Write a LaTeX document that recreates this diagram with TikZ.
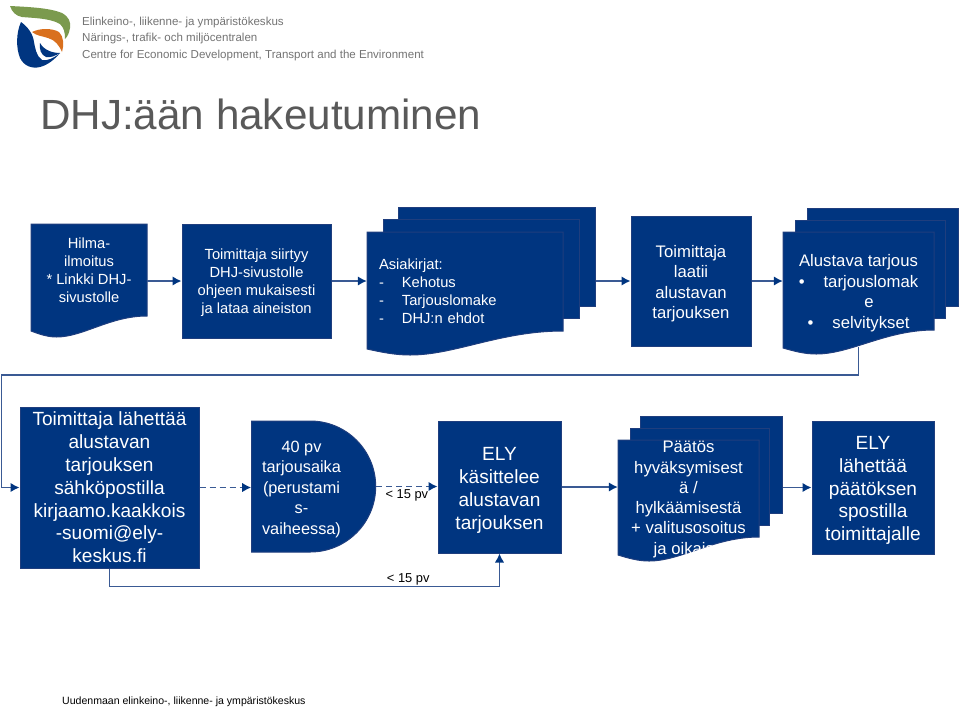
\documentclass[tikz,border=0pt]{standalone}
\usepackage{fontspec}
\setmainfont{Liberation Sans}
\usetikzlibrary{positioning,arrows.meta,shapes.misc}
\definecolor{elyblue}{HTML}{003580}
\definecolor{elyedge}{HTML}{1F3E7E}
\definecolor{elyline}{HTML}{3A5A94}
\definecolor{elygreen}{HTML}{7B9A4E}
\definecolor{elyorange}{HTML}{D9701E}
\newcommand{\wavepath}[5]{(#1,#2) -- (#3,#2) -- (#3,#4) .. controls ({#1+0.68*(#3-#1)},#4) and ({#1+0.45*(#3-#1)},#5+6) .. ({#1+0.22*(#3-#1)},#5+6) .. controls ({#1+0.14*(#3-#1)},#5+6) and ({#1+0.07*(#3-#1)},#5+3) .. (#1,#5) -- cycle}
\newcommand{\lift}[1]{\rule{0pt}{#1}}
\begin{document}
\begin{tikzpicture}[x=1pt,y=-1pt,
    main/.style = {draw=elyedge, fill=elyblue, line width=1pt},
    txt/.style = {text=white, align=center, inner sep=0pt},
    box/.style = {main, txt, rectangle},
    sheet/.style = {main, rectangle, anchor=north west, inner sep=0pt},
    small/.style = {font=\fontsize{14.7}{18}\selectfont},
    mid/.style = {font=\fontsize{16.7}{20.5}\selectfont},
    big/.style = {font=\fontsize{19.1}{22.8}\selectfont},
    tag/.style = {inner sep=1pt, font=\fontsize{12.9}{14}\selectfont},
    arr/.style = {draw=elyline, line width=1.6pt, -{Latex[length=9pt,width=9.5pt,color=elyblue]}},
    dasharr/.style = {arr, dash pattern=on 6pt off 4pt},
    head/.style = {text=black!55, anchor=west, inner sep=0pt, text height=9.5pt, text depth=2.5pt, font=\fontsize{11.55}{14}\selectfont}]
    \useasboundingbox (0,0) rectangle (960,710);

    \fill[elygreen] (10,6) .. controls (30,7) and (50,8) .. (62,13) .. controls (69,17) and (71,22) .. (70,28) .. controls (69,33) and (68,36) .. (65,39) .. controls (65,32) and (64,28) .. (60,24) .. controls (50,18) and (32,18) .. (22,17) .. controls (16,16) and (12,12) .. (10,6) -- cycle;
    \fill[elyblue] (21,22) .. controls (16,33) and (16,48) .. (20,58) .. controls (24,66) and (32,69) .. (40,67) .. controls (48,65) and (55,59) .. (60,53) .. controls (54,58) and (48,61) .. (42,60) .. controls (36,56) and (35,47) .. (34,42) .. controls (33,34) and (28,27) .. (21,22) -- cycle;
    \fill[elyblue] (40,43) .. controls (44,50) and (52,53) .. (60,53) .. controls (55,56) and (50,58) .. (46,57) .. controls (41,55) and (39,49) .. (40,43) -- cycle;
    \fill[elyorange] (32,32) .. controls (40,28) and (52,28) .. (59,32) .. controls (64,37) and (64,45) .. (62,52) .. controls (59,45) and (55,40) .. (48,38) .. controls (42,36) and (37,36) .. (32,32) -- cycle;

    \node[head] (h1) at (82,22) {Elinkeino-, liikenne- ja ympäristökeskus};
    \node[head, below=4pt of h1.south west, anchor=north west] (h2) {Närings-, trafik- och miljöcentralen};
    \node[head, below=4pt of h2.south west, anchor=north west] (h3) {Centre for Economic Development, Transport and the Environment};
    \node[text=black!65, anchor=west, inner sep=0pt, font=\fontsize{42.2}{50}\selectfont] (title) at (40,114) {DHJ:ään hakeutuminen};

    \path[main] \wavepath{31}{224}{147}{316}{331};
    \node[txt, small, minimum width=116pt] (hilma) at (89,270.5) {Hilma-\\ilmoitus\\* Linkki DHJ-\\sivustolle};
    \node[box, small, minimum width=149pt, minimum height=114pt] (siirtyy) at (256.5,281) {\lift{15pt}Toimittaja siirtyy\\DHJ-sivustolle\\ohjeen mukaisesti\\ja lataa aineiston};

    \node[sheet, minimum width=197pt, minimum height=99pt] (asia3) at (398,207) {};
    \node[sheet, minimum width=196pt, minimum height=99pt] (asia2) at (383,219) {};
    \path[main] \wavepath{367}{232}{563}{331}{349};
    \node[txt, small, align=left, text width=172pt, minimum width=196pt, minimum height=70pt] (asia) at (465,291) {Asiakirjat:\\-\hspace{18pt}Kehotus\\-\hspace{18pt}Tarjouslomake\\-\hspace{18pt}DHJ:n ehdot};

    \node[box, mid, minimum width=120pt, minimum height=130pt] (laatii) at (691,281) {\lift{17pt}Toimittaja\\laatii\\alustavan\\tarjouksen};

    \node[sheet, minimum width=151pt, minimum height=98pt] (alus3) at (807,208) {};
    \node[sheet, minimum width=150pt, minimum height=98pt] (alus2) at (795,220) {};
    \path[main] \wavepath{783}{232}{934}{330}{348};
    \node[txt, mid, minimum width=151pt, minimum height=108pt] (alus) at (858.5,293) {Alustava tarjous\\\textbullet\hspace{19pt}tarjouslomak\\\hspace{21pt}e\\\textbullet\hspace{19pt}selvitykset};

    \node[box, big, minimum width=179pt, minimum height=161pt] (lahettaa) at (109.5,487.5) {Toimittaja lähettää\\alustavan\\tarjouksen\\sähköpostilla\\kirjaamo.kaakkois\\-suomi@ely-\\keskus.fi};
    \node[main, txt, font=\fontsize{16.3}{20.4}\selectfont, rounded rectangle, rounded rectangle west arc=none, minimum width=124pt, minimum height=131pt] (aika) at (301.5,486.5) {\lift{17pt}40 pv\\tarjousaika\\(perustami\\s-\\vaiheessa)};
    \node[box, big, minimum width=123pt, minimum height=132pt] (kasittelee) at (499.5,487) {\lift{20pt}ELY\\käsittelee\\alustavan\\tarjouksen};

    \node[sheet, minimum width=142pt, minimum height=97pt] (paatos3) at (640,416) {};
    \node[sheet, minimum width=139pt, minimum height=97pt] (paatos2) at (630,428) {};
    \path[main] \wavepath{618}{440}{759}{537}{555};
    \begin{scope}
        \clip \wavepath{618}{440}{759}{537}{555};
        \node[txt, font=\fontsize{16.7}{20.3}\selectfont, minimum width=141pt] (paatos) at (688.5,499.5) {Päätös\\hyväksymisest\\ä /\\hylkäämisestä\\+ valitusosoitus\\ja oikaisu};
    \end{scope}

    \node[box, big, minimum width=122pt, minimum height=133pt] (lahetys) at (873,487.5) {\lift{19pt}ELY\\lähettää\\päätöksen\\spostilla\\toimittajalle};

    \draw[arr] (hilma.east |- siirtyy.west) -- (siirtyy.west);
    \draw[arr] (siirtyy.east) -- (siirtyy.east -| asia.west);
    \draw[arr] (asia3.east |- laatii.west) -- (laatii.west);
    \draw[arr] (laatii.east) -- (laatii.east -| alus.west);
    \draw[arr] (alus.south) -- ++(0,28) -| ([xshift=-18pt]lahettaa.west) -- (lahettaa.west);
    \draw[dasharr] (lahettaa.east) -- (lahettaa.east -| aika.west);
    \draw[dasharr] (aika.east) -- node[below=1pt, tag] {< 15 pv} (aika.east -| kasittelee.west);
    \draw[arr] (lahettaa.south) -- ++(0,18) -| node[pos=0.383, above, tag] {< 15 pv} (kasittelee.south);
    \draw[arr] (kasittelee.east) -- (kasittelee.east -| paatos.west);
    \draw[arr] (paatos3.east |- lahetys.west) -- (lahetys.west);

    \node[anchor=west, inner sep=0pt, font=\fontsize{10.55}{13}\selectfont] (footer) at (62,701.5) {Uudenmaan elinkeino-, liikenne- ja ympäristökeskus};
\end{tikzpicture}
\end{document}
